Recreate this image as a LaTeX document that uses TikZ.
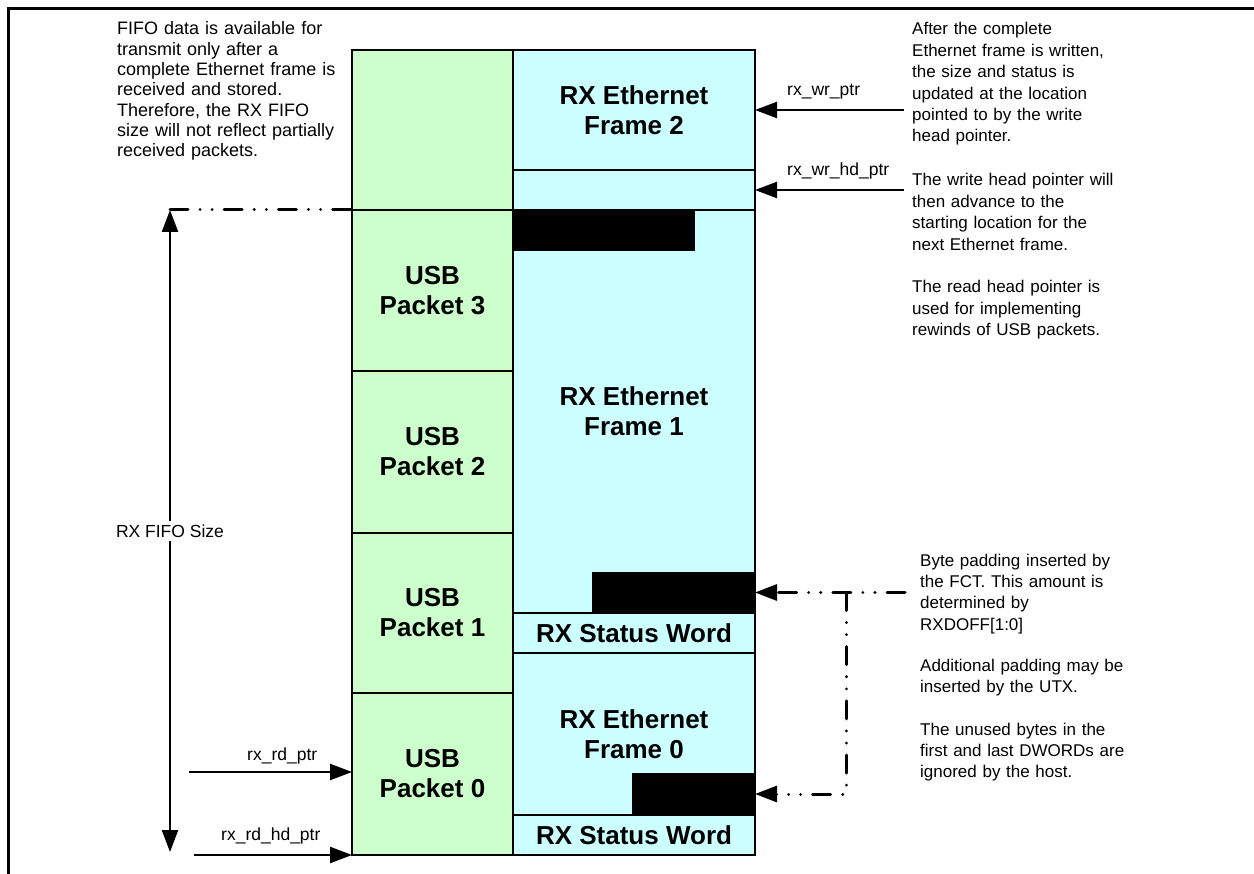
\documentclass[tikz,border=0pt]{standalone}
\usepackage{fontspec}
\setmainfont{Liberation Sans}
\usetikzlibrary{arrows.meta}
\definecolor{cgreen}{HTML}{CCFFCC}
\definecolor{cblue}{HTML}{CCFFFF}
\begin{document}
\begin{tikzpicture}[x=1pt,y=-1pt,
  cell/.style={draw,line width=2.2pt,inner sep=0pt,outer sep=0pt,anchor=north west,align=center,font=\bfseries\fontsize{26}{30}\selectfont},
  gcell/.style={cell,fill=cgreen},
  bcell/.style={cell,fill=cblue},
  padbar/.style={fill=black,inner sep=0pt,outer sep=0pt,anchor=north west},
  ptrtip/.style={-{Triangle[length=22pt,width=16pt]}},
  ptr/.style={line width=2.3pt,ptrtip},
  ddot/.style={line width=3pt,dash pattern=on 18pt off 12pt on 0.1pt off 12pt on 0.1pt off 12pt,line cap=round},
  note/.style={anchor=base west,inner sep=0pt,align=left,text width=300pt,font=\fontsize{17}{21.4}\selectfont},
  lbl/.style={anchor=base west,inner sep=0pt,font=\fontsize{17.5}{20}\selectfont}
]
\useasboundingbox (0,0) rectangle (1254,874);
% frame border
\draw[line width=2.5pt] (1254,8.5) -- (8.5,8.5) -- (8.5,874);

% green column
\node[gcell,minimum width=161pt,minimum height=160pt] (g4) at (352,50) {};
\node[gcell,minimum width=161pt,minimum height=161pt] (usb3) at (352,210) {USB\\Packet 3};
\node[gcell,minimum width=161pt,minimum height=162pt] (usb2) at (352,371) {USB\\Packet 2};
\node[gcell,minimum width=161pt,minimum height=160pt] (usb1) at (352,533) {USB\\Packet 1};
\node[gcell,minimum width=161pt,minimum height=162pt] (usb0) at (352,693) {USB\\Packet 0};

% blue column
\node[bcell,minimum width=242pt,minimum height=120pt] (f2) at (513,50) {RX Ethernet\\Frame 2};
\node[bcell,minimum width=242pt,minimum height=40pt] (f2b) at (513,170) {};
\node[bcell,minimum width=242pt,minimum height=403pt] (f1) at (513,210) {RX Ethernet\\Frame 1};
\node[bcell,minimum width=242pt,minimum height=40pt] (sw1) at (513,613) {RX Status Word};
\node[bcell,minimum width=242pt,minimum height=162pt] (f0) at (513,653) {RX Ethernet\\Frame 0};
\node[bcell,minimum width=242pt,minimum height=40pt] (sw0) at (513,815) {RX Status Word};

% padding bars
\node[padbar,minimum width=182pt,minimum height=41pt] (pad1a) at (513,210) {};
\node[padbar,minimum width=163pt,minimum height=41pt] (pad1b) at (592,572) {};
\node[padbar,minimum width=123pt,minimum height=42pt] (pad0) at (632,773) {};

% write pointers
\coordinate (wrs) at (904,110);
\coordinate (wrhds) at (904,190);
\draw[ptr] (wrs) -- (wrs -| f2.east);
\draw[ptr] (wrhds) -- (wrhds -| f2b.east);
\node[lbl] (lwr) at (787,96) {rx\_wr\_ptr};
\node[lbl] (lwrhd) at (787,176) {rx\_wr\_hd\_ptr};

% read pointers
\coordinate (rds) at (189,772);
\coordinate (rdhds) at (194,855);
\draw[ptr] (rds) -- (rds -| usb0.west);
\draw[ptr] (rdhds) -- (rdhds -| usb0.west);
\node[lbl] (lrd) at (247,760) {rx\_rd\_ptr};
\node[lbl] (lrdhd) at (221,840) {rx\_rd\_hd\_ptr};

% RX FIFO size
\coordinate (ftop) at (170,210);
\coordinate (fbot) at (170,852);
\draw[line width=2.3pt,{Triangle[length=22pt,width=16pt]}-{Triangle[length=22pt,width=16pt]}] (ftop) -- (fbot);
\node[fill=white,inner xsep=1pt,inner ysep=4pt,font=\fontsize{17.5}{20}\selectfont] (fsize) at (170,531) {RX FIFO Size};
\draw[ddot] (ftop) -- (usb3.north west);

% padding arrows
\coordinate (padA) at (905,592.5);
\coordinate (padJ) at (846,592.5);
\draw[ddot,ptrtip] (padA) -- (pad1b.east);
\draw[ddot,ptrtip] (padJ) -- (padJ |- pad0.east) -- (pad0.east);

% notes
\node[note,font=\fontsize{18}{20.3}\selectfont] (nleft) at (117,35) {FIFO data is available for\\transmit only after a\\complete Ethernet frame is\\received and stored.\\Therefore, the RX FIFO\\size will not reflect partially\\received packets.};
\node[note] (nr1) at (912,35) {After the complete\\Ethernet frame is written,\\the size and status is\\updated at the location\\pointed to by the write\\head pointer.};
\node[note] (nr2) at (912,186) {The write head pointer will\\then advance to the\\starting location for the\\next Ethernet frame.};
\node[note] (nr3) at (912,293) {The read head pointer is\\used for implementing\\rewinds of USB packets.};
\node[note] (nr4) at (920,566) {Byte padding inserted by\\the FCT. This amount is\\determined by\\RXDOFF[1:0]};
\node[note] (nr5) at (920,671) {Additional padding may be\\inserted by the UTX.};
\node[note] (nr6) at (920,735) {The unused bytes in the\\first and last DWORDs are\\ignored by the host.};
\end{tikzpicture}
\end{document}
